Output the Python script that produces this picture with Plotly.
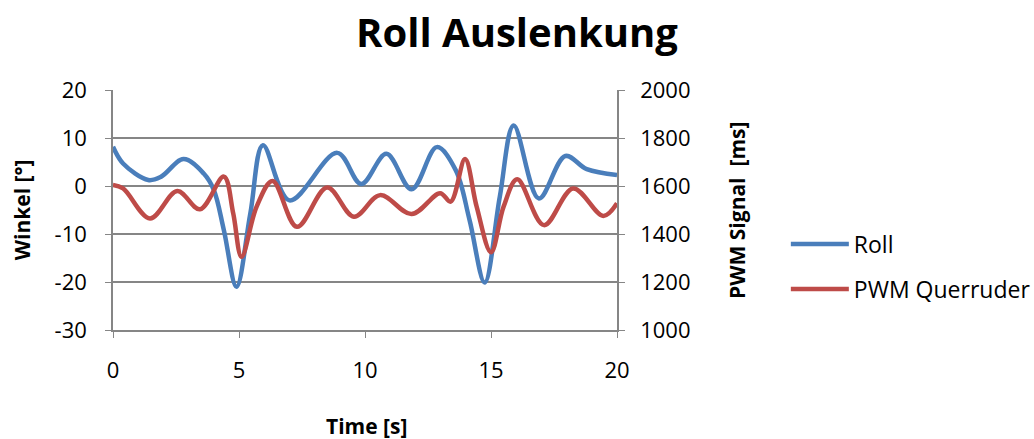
import plotly.graph_objects as go

# Roll angle [deg] over time [s]
roll_t = [0.0, 0.4, 1.4, 1.9, 2.8, 3.6, 4.0, 4.4, 4.9, 5.45, 5.95, 7.0, 8.9, 9.85,
          10.85, 11.85, 12.85, 13.6, 14.15, 14.75, 15.35, 15.9, 16.9, 17.95, 18.8, 20.0]
roll_deg = [8.2, 4.7, 1.25, 1.9, 5.6, 2.6, -0.8, -9.2, -21.0, -5.7, 8.5, -3.0, 6.9, 0.4,
            6.7, -0.7, 8.1, 3.3, -7.1, -20.1, -2.2, 12.6, -2.6, 6.25, 3.5, 2.3]

# Aileron PWM signal [ms] over time [s]
pwm_t = [0.0, 0.4, 1.47, 2.55, 3.45, 4.4, 4.77, 5.1, 5.7, 6.33, 7.3, 8.5, 9.56,
         10.6, 11.85, 12.98, 13.4, 13.97, 14.43, 15.0, 15.5, 16.04, 17.1, 18.26, 19.46, 20.0]
pwm_ms = [1604, 1590, 1465, 1579, 1503, 1639, 1486, 1305, 1514, 1621, 1430, 1594, 1472,
          1562, 1483, 1570, 1535, 1712, 1514, 1324, 1514, 1628, 1437, 1590, 1475, 1528]

x_ticks = [0, 5, 10, 15, 20]
left_ticks = [-30, -20, -10, 0, 10, 20]
left_labels = ["-30", "-20", "-10", "0", "10", "20"]
right_ticks = [1000, 1200, 1400, 1600, 1800, 2000]

FONT = "Open Sans"
GRID = "#868686"
BLUE = "#4A7EBB"
RED = "#BE4B48"
TICK_SIZE = 22
AXIS_TITLE_SIZE = 21

fig = go.Figure()
fig.add_trace(go.Scatter(
    x=roll_t, y=roll_deg, name="Roll", mode="lines",
    line=dict(color=BLUE, width=4.5, shape="spline", smoothing=1.0),
    legendgroup="a",
))
fig.add_trace(go.Scatter(
    x=pwm_t, y=pwm_ms, name="PWM Querruder", mode="lines", yaxis="y2",
    line=dict(color=RED, width=4.5, shape="spline", smoothing=1.0),
    legendgroup="b",
))

axis_common = dict(zeroline=False, showline=True, linecolor=GRID, linewidth=1.5,
                   ticks="outside", tickcolor=GRID, ticklen=6,
                   tickfont=dict(size=TICK_SIZE))

fig.update_layout(
    width=1034, height=439,
    margin=dict(l=113, r=417, t=90, b=109, autoexpand=False),
    paper_bgcolor="white", plot_bgcolor="white",
    font=dict(family=FONT, size=TICK_SIZE, color="black"),
    title=dict(text="<b>Roll Auslenkung</b>", x=0.5, y=0.925, xanchor="center",
               yanchor="middle", font=dict(family=FONT, size=40, color="black")),
    xaxis=dict(range=[0, 20], tickvals=x_ticks, showgrid=False,
               ticklabelstandoff=14, **axis_common),
    yaxis=dict(range=[-30, 20], tickvals=left_ticks, ticktext=left_labels,
               showgrid=True, gridcolor=GRID, gridwidth=1.5,
               ticklabelstandoff=14, **axis_common),
    yaxis2=dict(range=[1000, 2000], tickvals=right_ticks, overlaying="y",
                side="right", showgrid=False, ticklabelstandoff=11, **axis_common),
    legend=dict(xref="container", yref="container", x=0.76, y=0.493,
                xanchor="left", yanchor="top",
                font=dict(size=23), tracegroupgap=12, itemwidth=58,
                bgcolor="rgba(0,0,0,0)"),
    showlegend=True,
)

fig.add_annotation(text="<b>Winkel [°]</b>", xref="paper", yref="paper",
                   x=-0.18, y=0.5, textangle=-90, showarrow=False,
                   font=dict(size=AXIS_TITLE_SIZE), xanchor="center", yanchor="middle")
fig.add_annotation(text="<b>PWM Signal  [ms]</b>", xref="paper", yref="paper",
                   x=1.238, y=0.5, textangle=-90, showarrow=False,
                   font=dict(size=AXIS_TITLE_SIZE), xanchor="center", yanchor="middle")
fig.add_annotation(text="<b>Time [s]</b>", xref="paper", yref="paper",
                   x=0.503, y=-0.4, showarrow=False,
                   font=dict(size=AXIS_TITLE_SIZE), xanchor="center", yanchor="middle")

fig.write_html("out.html")
